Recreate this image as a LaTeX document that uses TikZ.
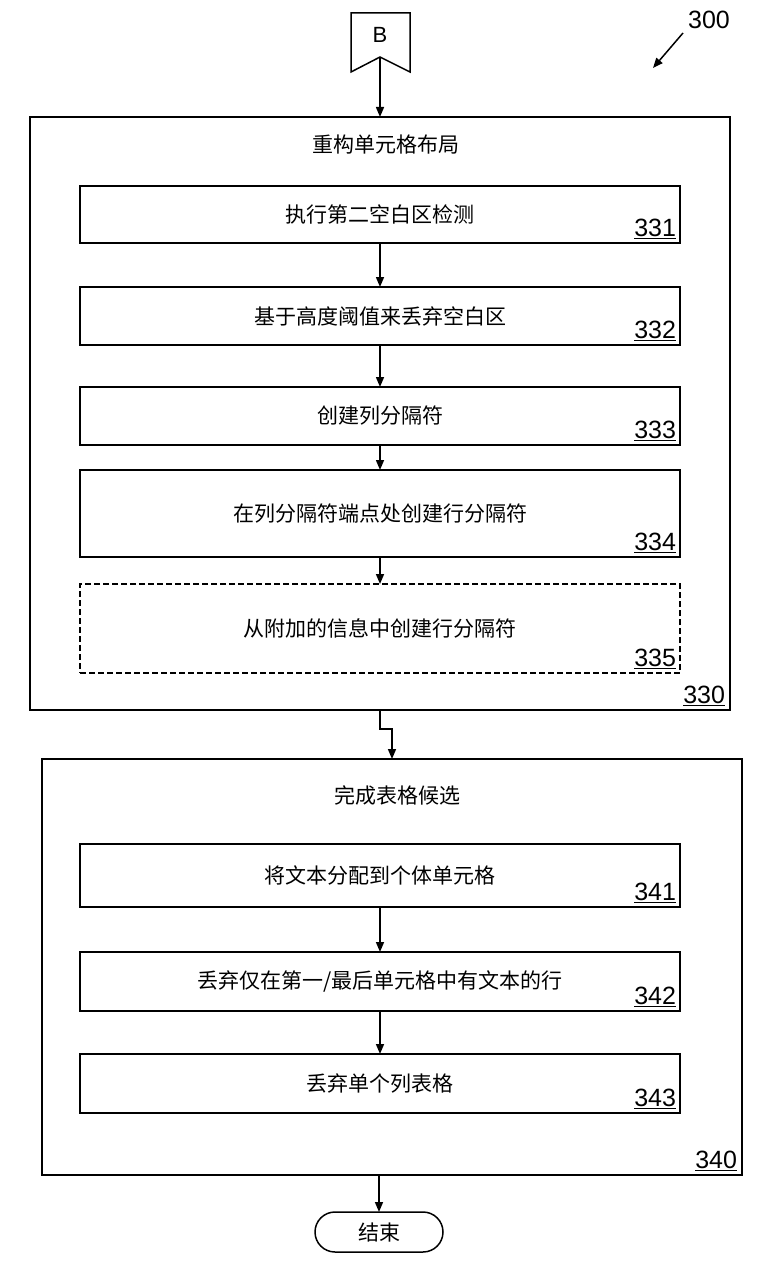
\documentclass[tikz,border=0pt]{standalone}
\usepackage{fontspec}
\setmainfont{Liberation Sans}
\newfontfamily\cjk{Noto Sans CJK SC}
\usetikzlibrary{arrows.meta}
\begin{document}
\begin{tikzpicture}[x=1pt,y=-1pt,
  line width=1.5pt,
  every node/.style={inner sep=0pt, outer sep=0pt},
  outerbox/.style={draw, minimum width=700pt},
  stepbox/.style={draw, minimum width=600pt, font=\cjk\fontsize{21pt}{24pt}\selectfont},
  optbox/.style={stepbox, dash pattern=on 6pt off 3pt},
  title/.style={font=\cjk\fontsize{21pt}{24pt}\selectfont},
  num/.style={font=\fontsize{25pt}{28pt}\selectfont, anchor=south east},
  flow/.style={-{Triangle[width=8pt,length=10pt]}, line width=1.5pt},
  terminal/.style={draw, rounded corners=20pt, minimum width=128pt, minimum height=40pt, font=\cjk\fontsize{21pt}{24pt}\selectfont}
]
\useasboundingbox (0,0) rectangle (761,1265);

% off-page connector B
\draw (351,13) -- (410,13) -- (410,72) -- (380,57) -- (351,72) -- cycle;
\node[font=\fontsize{22pt}{24pt}\selectfont] (B) at (380,35) {B};
\coordinate (Bnotch) at (380,57);

% figure reference 300
\node[font=\fontsize{25pt}{28pt}\selectfont] (fig) at (709,20) {300};
\coordinate (figtip) at (653,68);
\draw[flow] (683,33) -- (figtip);

% block 330
\node[outerbox, minimum height=593pt] (b330) at (380,413.5) {};
\node[title] (t330) at (386,145) {重构单元格布局};
\node[num] (n330) at ([xshift=-5pt,yshift=4pt]b330.south east) {\underline{330}};

\node[stepbox, minimum height=57pt] (b331) at (380,214.5) {执行第二空白区检测};
\node[stepbox, minimum height=58pt] (b332) at (380,316) {基于高度阈值来丢弃空白区};
\node[stepbox, minimum height=58pt] (b333) at (380,416) {创建列分隔符};
\node[stepbox, minimum height=87pt] (b334) at (380,513.5) {在列分隔符端点处创建行分隔符};
\node[optbox, minimum height=89pt] (b335) at (380,628.5) {从附加的信息中创建行分隔符};

\foreach \i in {331,332,333,334,335}
  \node[num] at ([xshift=-4pt,yshift=4pt]b\i.south east) {\underline{\i}};

% block 340
\node[outerbox, minimum height=416pt] (b340) at (392,967) {};
\node[title] (t340) at (397,795) {完成表格候选};
\node[num] (n340) at ([xshift=-5pt,yshift=4pt]b340.south east) {\underline{340}};

\node[stepbox, minimum height=63pt] (b341) at (380,875.5) {将文本分配到个体单元格};
\node[stepbox, minimum height=59pt] (b342) at (380,981.5) {丢弃仅在第一/最后单元格中有文本的行};
\node[stepbox, minimum height=59pt] (b343) at (380,1083.5) {丢弃单个列表格};

\foreach \i in {341,342,343}
  \node[num] at ([xshift=-4pt,yshift=4pt]b\i.south east) {\underline{\i}};

% terminal
\node[terminal] (end) at (379,1232) {结束};

% connectors
\draw[flow] (Bnotch) -- (b330.north);
\draw[flow] (b331) -- (b332);
\draw[flow] (b332) -- (b333);
\draw[flow] (b333) -- (b334);
\draw[flow] (b334) -- (b335);
\draw[flow] (b330.south) -- ++(0,19) -| (b340.north);
\draw[flow] (b341) -- (b342);
\draw[flow] (b342) -- (b343);
\draw[flow] (end.north |- b340.south) -- (end.north);
\end{tikzpicture}
\end{document}
